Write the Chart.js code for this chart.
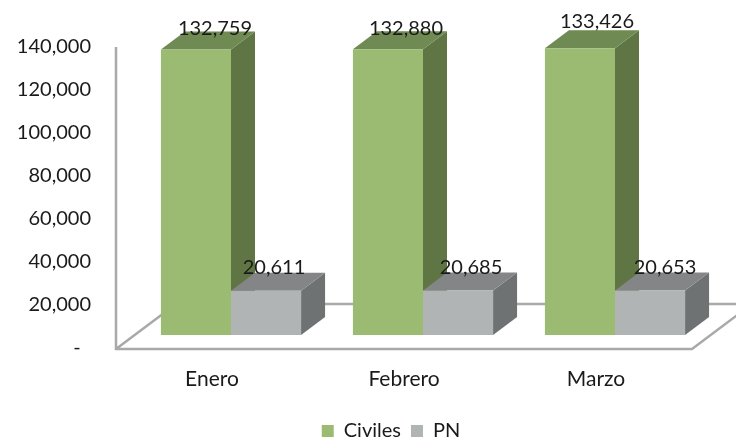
<!DOCTYPE html>
<html>
<head>
<meta charset="utf-8">
<style>
  html, body { margin: 0; padding: 0; background: #fff; }
  #wrap { width: 736px; height: 438px; }
</style>
<script src="https://cdn.jsdelivr.net/npm/chart.js@4"></script>
</head>
<body>
<div id="wrap"><canvas id="myChart"></canvas></div>
<script>
const categories = ["Enero", "Febrero", "Marzo"];
const civiles = [132759, 132880, 133426];
const pn = [20611, 20685, 20653];
const yTickLabels = ["-\u00a0\u00a0", "20,000", "40,000", "60,000", "80,000", "100,000", "120,000", "140,000"];

// depth of the fake 3D look, in pixels
const barDepth = { x: 24, y: 18 };
const barShift = { x: 19, y: 13 };
const floorDepth = { x: 60, y: 45 };
const legendShift = 45;

const looks = [
  { front: "#9bbb72", side: "#5f7544", top: "#6f8a52" },
  { front: "#b0b4b5", side: "#6e7272", top: "#838587" },
];

// label nudges per dataset and month, the original labels were moved by hand
const labelNudge = [
  [{ x: 19, y: -21 }, { x: 18, y: -21 }, { x: 17, y: -27 }],
  [{ x: 8, y: -23 }, { x: 13, y: -23 }, { x: 15, y: -23 }],
];

function poly(ctx, color, pts) {
  ctx.fillStyle = color;
  ctx.beginPath();
  pts.forEach((p, i) => (i ? ctx.lineTo(p[0], p[1]) : ctx.moveTo(p[0], p[1])));
  ctx.closePath();
  ctx.fill();
}

const fake3d = {
  id: "fake3d",
  afterLayout(chart) {
    // legend sits centred on the whole picture, not on the plot
    chart.legend.left += legendShift;
    chart.legend.right += legendShift;
  },
  beforeDatasetsDraw(chart) {
    const { ctx, chartArea: a } = chart;
    const bottom = a.bottom + 1;

    // wall and floor lines
    ctx.save();
    ctx.strokeStyle = "#a9a9a9";
    ctx.lineWidth = 2.5;
    ctx.beginPath();
    ctx.moveTo(a.left, a.top);
    ctx.lineTo(a.left, bottom);
    ctx.lineTo(a.right, bottom);
    ctx.lineTo(a.right + floorDepth.x, bottom - floorDepth.y);
    ctx.lineTo(a.left + floorDepth.x, bottom - floorDepth.y);
    ctx.lineTo(a.left, bottom);
    ctx.stroke();
    ctx.restore();

    // side and top faces, back to front, then the library draws the fronts
    chart.data.datasets.forEach((ds, d) => {
      chart.getDatasetMeta(d).data.forEach((bar) => {
        const { x, y, base, width } = bar.getProps(["x", "y", "base", "width"]);
        const l = x - width / 2 + barShift.x;
        const r = x + width / 2 + barShift.x;
        const t = y - barShift.y;
        const b = base - barShift.y;
        const dx = barDepth.x;
        const dy = barDepth.y;
        poly(ctx, looks[d].side, [[r, t], [r + dx, t - dy], [r + dx, b - dy], [r, b]]);
        poly(ctx, looks[d].top, [[l, t], [r, t], [r + dx, t - dy], [l + dx, t - dy]]);
      });
    });

    ctx.save();
    ctx.translate(barShift.x, -barShift.y);
  },
  afterDatasetsDraw(chart) {
    const { ctx } = chart;
    ctx.restore();

    ctx.save();
    ctx.font = "20px Lato";
    ctx.fillStyle = "#1a1a1a";
    ctx.textAlign = "center";
    ctx.textBaseline = "middle";
    chart.data.datasets.forEach((ds, d) => {
      chart.getDatasetMeta(d).data.forEach((bar, i) => {
        const nudge = labelNudge[d][i];
        const { x, y } = bar.getProps(["x", "y"]);
        ctx.fillText(
          ds.data[i].toLocaleString("en-US"),
          x + barShift.x + nudge.x,
          y - barShift.y + nudge.y
        );
      });
    });
    ctx.restore();
  },
};

new Chart(document.getElementById("myChart"), {
  type: "bar",
  data: {
    labels: categories,
    datasets: [
      { label: "Civiles", data: civiles, backgroundColor: looks[0].front },
      { label: "PN", data: pn, backgroundColor: looks[1].front },
    ],
  },
  options: {
    responsive: true,
    maintainAspectRatio: false,
    animation: false,
    categoryPercentage: 0.73,
    barPercentage: 1,
    layout: { padding: { top: 47, right: 44, left: 0, bottom: -13 } },
    plugins: {
      tooltip: { enabled: false },
      legend: {
        position: "bottom",
        labels: {
          boxWidth: 12,
          boxHeight: 12,
          padding: 10,
          color: "#1a1a1a",
          font: { family: "Lato", size: 20 },
        },
      },
    },
    scales: {
      x: {
        grid: { display: false },
        border: { display: false },
        ticks: {
          color: "#1a1a1a",
          padding: 11,
          maxRotation: 0,
          font: { family: "Lato", size: 21 },
        },
        afterFit(scale) {
          scale.height = 63;
        },
      },
      y: {
        min: 0,
        max: 140000,
        grid: { display: false },
        border: { display: false },
        ticks: {
          stepSize: 20000,
          color: "#1a1a1a",
          padding: 17,
          font: { family: "Lato", size: 20 },
          callback: (value, index) => yTickLabels[index],
        },
        afterFit(scale) {
          scale.width = 116;
        },
      },
    },
  },
  plugins: [fake3d],
});
</script>
</body>
</html>
